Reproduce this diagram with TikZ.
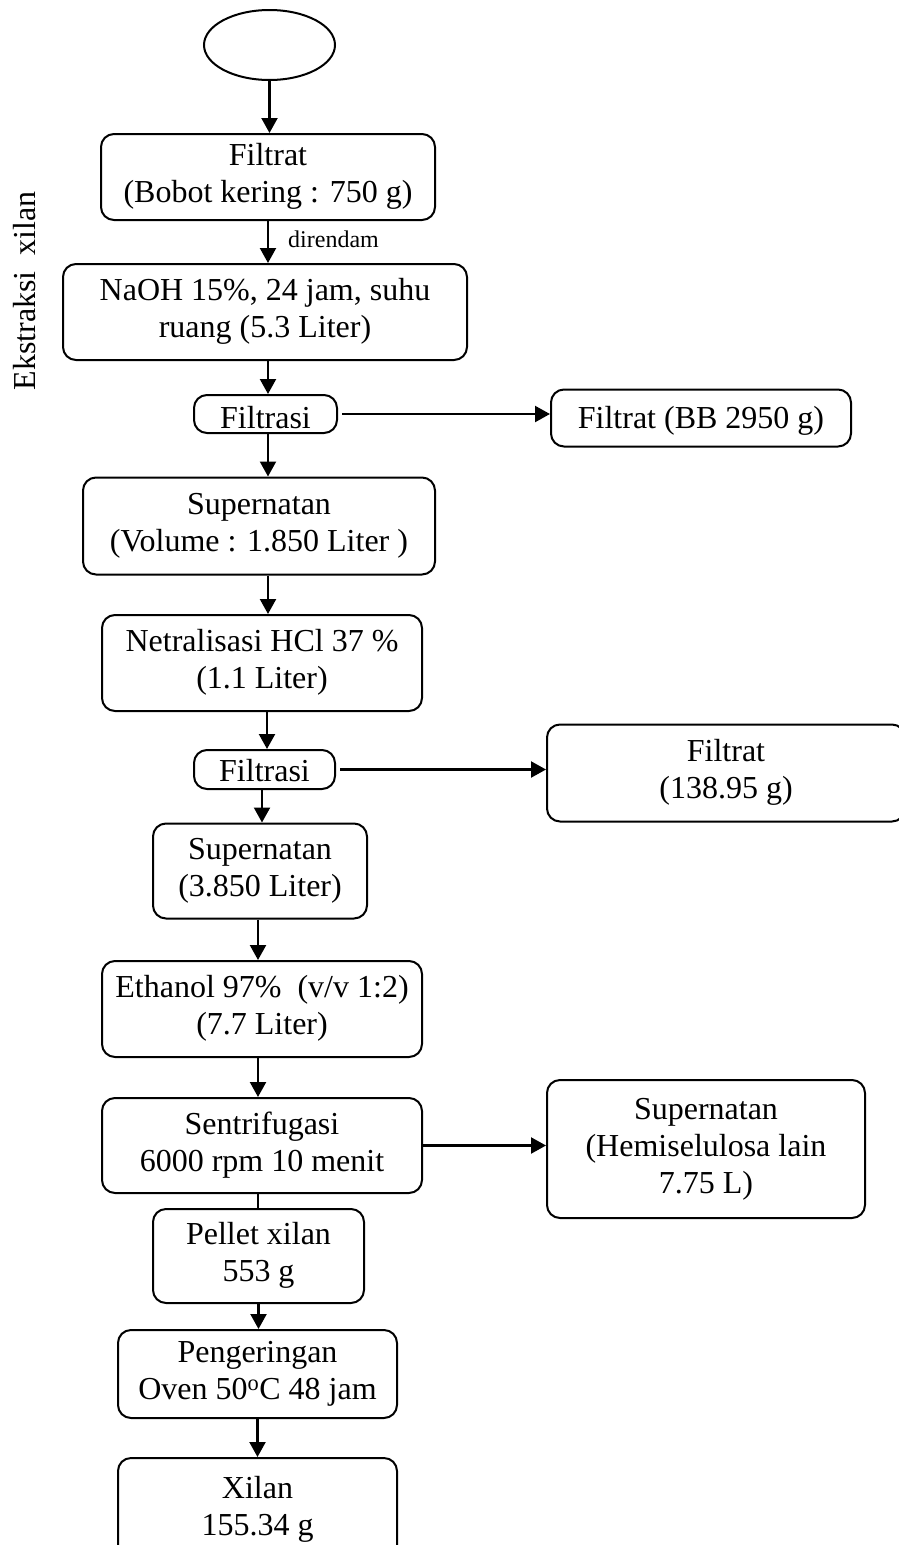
\documentclass[tikz,border=0pt]{standalone}
\usepackage{fontspec}
\setmainfont{Liberation Serif}
\usetikzlibrary{shapes.geometric,arrows.meta}
\newcommand{\tb}[1]{\begin{tabular}{@{}c@{}}#1\end{tabular}}
\begin{document}
\begin{tikzpicture}[x=1pt,y=-1pt,
  box/.style={draw, line width=2pt, rounded corners=13pt, inner sep=0pt,
    font=\fontsize{32}{37}\selectfont},
  arr/.style={line width=2.2pt, -{Triangle[length=15pt,width=16pt]}},
  ln/.style={line width=2.2pt}]
\useasboundingbox (0,0) rectangle (899,1545);

\node[draw, ellipse, line width=2pt, minimum width=131pt, minimum height=70pt, inner sep=0pt] (e) at (269.5,45) {};

\node[box, minimum width=334pt, minimum height=86pt] (f1) at (268,177) {\tb{Filtrat\\(Bobot kering : 750 g)}};
\node[box, minimum width=404pt, minimum height=96pt] (naoh) at (265,312) {\tb{NaOH 15\%, 24 jam, suhu\\ruang (5.3 Liter)}};
\node[box, minimum width=143pt, minimum height=38pt] (fil1) at (265.5,414) {\tb{\raisebox{-7pt}{Filtrasi}}};
\node[box, minimum width=300pt, minimum height=57pt] (fbb) at (701,418) {\tb{\raisebox{-3pt}{Filtrat (BB 2950 g)}}};
\node[box, minimum width=352pt, minimum height=97pt] (s1) at (259,526) {\tb{Supernatan\\(Volume : 1.850 Liter )}};
\node[box, minimum width=320pt, minimum height=96pt] (net) at (262,663) {\tb{Netralisasi HCl 37 \%\\(1.1 Liter)}};
\node[box, minimum width=141pt, minimum height=39pt] (fil2) at (264.5,769.5) {\tb{\raisebox{-5pt}{Filtrasi}}};
\node[box, minimum width=358pt, minimum height=97pt] (f2) at (726,773) {\tb{Filtrat\\(138.95 g)}};
\node[box, minimum width=214pt, minimum height=95pt] (s2) at (260,871) {\tb{Supernatan\\(3.850 Liter)}};
\node[box, minimum width=320pt, minimum height=96pt] (eth) at (262,1009) {\tb{Ethanol 97\%\ \ (v/v 1:2)\\(7.7 Liter)}};
\node[box, minimum width=320pt, minimum height=95pt] (sen) at (262,1145.5) {\tb{Sentrifugasi\\6000 rpm 10 menit}};
\node[box, minimum width=318pt, minimum height=138pt] (s3) at (706,1149) {\tb{Supernatan\\(Hemiselulosa lain\\7.75 L)}};
\node[box, minimum width=211pt, minimum height=94pt] (pel) at (258.5,1256) {\tb{Pellet xilan\\553 g}};
\node[box, minimum width=279pt, minimum height=88pt] (peng) at (257.5,1374) {\tb{Pengeringan\\Oven 50\textsuperscript{o}C 48 jam}};
\node[box, minimum width=279pt, minimum height=104pt] (xil) at (257.5,1510) {\tb{Xilan\\155.34 g}};

\node[anchor=base west, inner sep=0pt, font=\fontsize{24}{28}\selectfont] (dir) at (288,247) {direndam};
\node[rotate=90, anchor=base, inner sep=0pt, font=\fontsize{32}{37}\selectfont] (side) at (35,291) {Ekstraksi\ \ xilan};

\draw[arr] (e.south) -- (e.south |- f1.north);
\draw[arr] (f1.south) -- (f1.south |- naoh.north);
\draw[arr] ([xshift=3pt]naoh.south) -- ([xshift=3pt]naoh.south |- fil1.north);
\draw[arr] ([xshift=4pt]fil1.east) -- (fil1.east -| fbb.west);
\draw[arr] ([xshift=2.5pt]fil1.south) -- ([xshift=2.5pt]fil1.south |- s1.north);
\draw[arr] ([xshift=9pt]s1.south) -- ([xshift=9pt]s1.south |- net.north);
\draw[arr] ([xshift=5pt]net.south) -- ([xshift=5pt]net.south |- fil2.north);
\draw[arr] ([xshift=4pt]fil2.east) -- (fil2.east -| f2.west);
\draw[arr] ([xshift=-2.5pt]fil2.south) -- ([xshift=-2.5pt]fil2.south |- s2.north);
\draw[arr] ([xshift=-2pt]s2.south) -- ([xshift=-2pt]s2.south |- eth.north);
\draw[arr] ([xshift=-4pt]eth.south) -- ([xshift=-4pt]eth.south |- sen.north);
\draw[arr] (sen.east) -- (sen.east -| s3.west);
\draw[ln] ([xshift=-4pt]sen.south) -- ([xshift=-4pt]sen.south |- pel.north);
\draw[arr] (pel.south) -- (pel.south |- peng.north);
\draw[arr] (peng.south) -- (peng.south |- xil.north);
\end{tikzpicture}
\end{document}
